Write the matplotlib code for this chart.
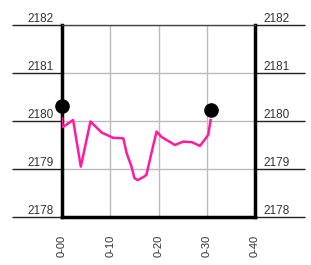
import matplotlib
matplotlib.use("Agg")
import matplotlib.pyplot as plt

plt.rcParams["font.family"] = ["Liberation Sans", "DejaVu Sans"]

# pink trace (minutes, value)
t = [0.0, 0.1, 2.3, 3.9, 5.9, 8.2, 10.6, 12.7, 13.4, 14.4, 15.0, 15.7, 17.0, 17.5,
     18.6, 19.6, 20.6, 23.4, 25.1, 26.9, 28.6, 30.3, 30.8]
v = [2180.06, 2179.87, 2180.02, 2179.05, 2179.99, 2179.76, 2179.65, 2179.64, 2179.33,
     2179.05, 2178.81, 2178.77, 2178.84, 2178.88, 2179.36, 2179.78, 2179.67, 2179.50,
     2179.57, 2179.56, 2179.48, 2179.71, 2180.02]

# end markers
dot_t = [0.0, 30.8]
dot_v = [2180.31, 2180.23]

yticks = [2178, 2179, 2180, 2181, 2182]
xticks = [0, 10, 20, 30, 40]
xlabels = ["0-00", "0-10", "0-20", "0-30", "0-40"]

fig = plt.figure(figsize=(3.11, 2.65), dpi=100)
ax = fig.add_axes([62/311, 1-217/265, (255-62)/311, (217-25)/265])

ax.plot(t, v, color="#ff1aa0", lw=1.8, zorder=3)
ax.plot(dot_t, dot_v, 'o', color="black", markersize=9.5, clip_on=False, zorder=4)

ax.set_xlim(0, 40)
ax.set_ylim(2178, 2182)
ax.set_xticks(xticks)
ax.set_xticklabels(xlabels, rotation=90, fontsize=8, color="#333333")
ax.set_yticks(yticks)
ax.set_yticklabels([str(y) for y in yticks], fontsize=8.5, color="#333333", va="bottom")

ax.grid(True, color="#bbbbbb", lw=1)
ax.tick_params(axis="x", length=0, pad=13)
ax.tick_params(axis="y", length=36, width=1, color="#222222", direction="out",
               left=True, right=True, labelleft=True, labelright=True, pad=-30)

for side in ["left", "right", "bottom"]:
    ax.spines[side].set_linewidth(2.5)
    ax.spines[side].set_color("black")
ax.spines["top"].set_linewidth(1)
ax.spines["top"].set_color("#444444")

fig.savefig("out.png", dpi=100)
